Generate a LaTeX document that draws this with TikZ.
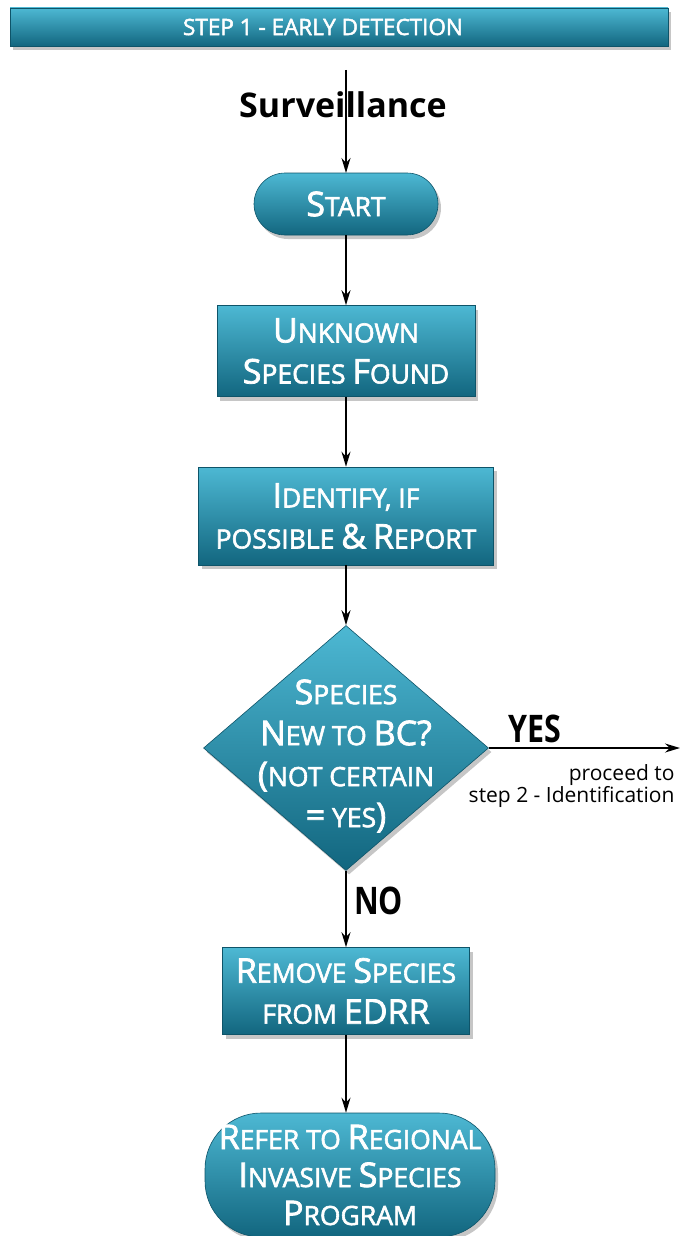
\documentclass[tikz,border=0pt]{standalone}
\usepackage{fontspec}
\setmainfont{Open Sans}
\newfontfamily\medfont[FakeBold=2.2]{Open Sans}
\usetikzlibrary{shapes.geometric,shadows,arrows.meta}

\definecolor{tealtop}{HTML}{4DB8D3}
\definecolor{tealbot}{HTML}{12667F}
\definecolor{tealedge}{HTML}{0E5469}

\newcommand\initial[1]{{\fontsize{34}{38}\selectfont #1}}
\newcommand\yesno[1]{\scalebox{0.8}[1]{\fontsize{38}{40}\selectfont\bfseries #1}}

\begin{document}
\begin{tikzpicture}[x=1pt,y=-1pt,
	>={Stealth[length=15pt,width=9pt]},
	flow/.style={line width=1.6pt},
	tealfill/.style={top color=tealtop,bottom color=tealbot,draw=tealedge,line width=0.6pt,
		drop shadow={shadow xshift=3pt,shadow yshift=-4pt,opacity=0.45}},
	boxtext/.style={text=white,align=center,inner sep=0pt,font=\medfont\fontsize{26.5}{41}\selectfont},
	box/.style={tealfill,rectangle,boxtext},
	pill/.style={box,rounded corners=#1},
	decision/.style={tealfill,diamond,inner sep=0pt,minimum width=285pt,minimum height=245pt}]
		\useasboundingbox (0,0) rectangle (680,1236);

		% banner
		\path (339,27) node[tealfill,rectangle,minimum width=658pt,minimum height=38pt] (banner) {};
		\path (323,27) node[text=white,font=\medfont\fontsize{22.5}{24}\selectfont] (bannertext) {STEP 1 - EARLY DETECTION};

		% surveillance
		\path (343,105) node[font=\bfseries\fontsize{34}{36}\selectfont] (surv) {Surveillance};
		\coordinate (top) at (346,70);
		\draw[flow,->] (top) -- (346,173) coordinate (startin);

		\path	(346,204) node[pill=31pt,minimum width=184pt,minimum height=62pt] (start) {\initial{S}TART}
			(346,351) node[box,minimum width=258pt,minimum height=91pt] (unknown) {\initial{U}NKNOWN\\\initial{S}PECIES \initial{F}OUND}
			(346,516) node[box,minimum width=295pt,minimum height=98pt] (identify) {\initial{I}DENTIFY, IF\\POSSIBLE \initial{\&} \initial{R}EPORT}
			(346,748) node[decision] (newbc) {}
			(346,991) node[box,minimum width=247pt,minimum height=87pt] (remove) {\initial{R}EMOVE \initial{S}PECIES\\FROM \initial{EDRR}}
			(350,1175) node[pill=56pt,minimum width=290pt,minimum height=124pt,font=\medfont\fontsize{26.5}{38}\selectfont] (refer) {\initial{R}EFER TO \initial{R}EGIONAL\\\initial{I}NVASIVE \initial{S}PECIES\\\initial{P}ROGRAM};
		\path (346,756) node[boxtext] (newbctext) {\initial{S}PECIES\\\initial{N}EW TO \initial{BC?}\\\initial{(}NOT CERTAIN\\\initial{=} YES\initial{)}};

		\draw[flow,->] (start) -- (unknown);
		\draw[flow,->] (unknown) -- (identify);
		\draw[flow,->] (identify) -- (newbc);
		\draw[flow,->] (newbc.south) -- (remove) node[pos=0.4,right=4pt] (no) {\yesno{NO}};
		\draw[flow,->] (remove) -- (refer.north -| remove);

		% yes branch
		\coordinate (exit) at (680,748);
		\draw[flow,->] (newbc.east) -- (exit) node[pos=0.24,above=1pt] (yes) {\yesno{YES}};
		\path (678,786) node[anchor=east,align=right,font=\fontsize{21}{20}\selectfont] (proceed) {proceed to\\step 2 - Identification};
	\end{tikzpicture}
\end{document}
